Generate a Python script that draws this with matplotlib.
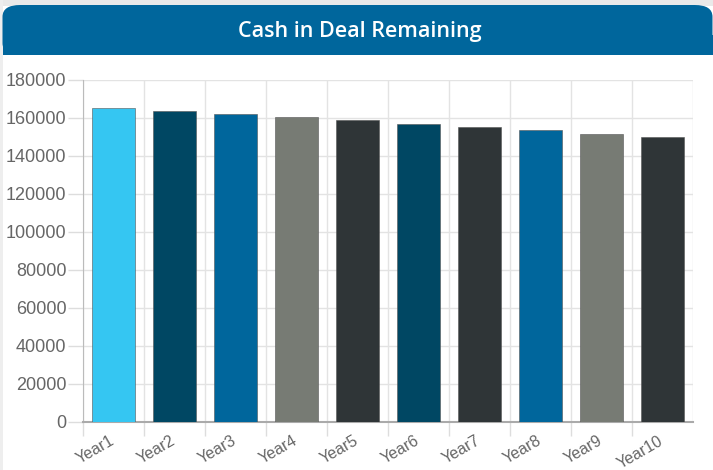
import numpy as np
import matplotlib.pyplot as plt
from matplotlib.patches import FancyBboxPatch, Rectangle
from matplotlib.transforms import ScaledTranslation

# chart data
years = ['Year1', 'Year2', 'Year3', 'Year4', 'Year5',
         'Year6', 'Year7', 'Year8', 'Year9', 'Year10']
cash = [165000, 163700, 162300, 160400, 158800,
        157000, 155400, 153800, 151700, 150000]
bar_colors = ['#35c6f2', '#004763', '#00669c', '#777b74', '#2f3537',
              '#004763', '#2f3537', '#00669c', '#777b74', '#2f3537']

W, H = 713, 470
fig = plt.figure(figsize=(W / 100, H / 100), dpi=100)
fig.patch.set_facecolor('white')

# light grey strip at the top and the card border on the left
fig.patches.append(Rectangle((0, (H - 6) / H), 1, 6 / H, transform=fig.transFigure,
                             facecolor='#e9e9e9', edgecolor='none', zorder=0))
fig.patches.append(Rectangle((0, 0), 2.5 / W, 1, transform=fig.transFigure,
                             facecolor='#eeeeee', edgecolor='none', zorder=0))

# blue header band with rounded top corners
header = FancyBboxPatch((2.5 / W, (H - 55) / H), (W - 3) / W, 50 / H,
                        boxstyle='round,pad=0,rounding_size=0.025',
                        transform=fig.transFigure, facecolor='#00669c',
                        edgecolor='none', zorder=1)
fig.patches.append(header)
fig.patches.append(Rectangle((2.5 / W, (H - 55) / H), (W - 3) / W, 20 / H,
                             transform=fig.transFigure, facecolor='#00669c',
                             edgecolor='none', zorder=1))
fig.text(360 / W, 1 - 31 / H, 'Cash in Deal Remaining', color='white',
         fontsize=15.5, family='Open Sans', fontweight='semibold',
         ha='center', va='center', zorder=2)

# plot area
left, right, top, bottom = 83, 693, 80, 422
ax = fig.add_axes([left / W, 1 - bottom / H, (right - left) / W, (bottom - top) / H])
ax.set_facecolor('none')
ax.set_zorder(5)

x = np.arange(len(years))
ax.bar(x, cash, width=0.72, color=bar_colors, edgecolor='#555555',
       linewidth=0.4, zorder=3)

ax.set_xlim(-0.5, len(years) - 0.5)
ax.set_ylim(0, 180000)
ax.set_yticks(np.arange(0, 180001, 20000))
ax.set_xticks(x - 0.5)
ax.set_xticklabels([])
ax.set_xticks(x, minor=True)
ax.set_xticklabels(years, minor=True, rotation=30, ha='right', va='top',
                   rotation_mode='anchor', color='#666666',
                   fontsize=11.5, family='Liberation Sans')
ax.tick_params(axis='x', which='minor', length=0, pad=8)
ax.tick_params(axis='x', which='major', length=10, color='#dddddd', width=1)
ax.tick_params(axis='y', length=11, color='#dddddd', width=1,
               labelcolor='#666666', labelsize=13, pad=1)
for lbl in ax.get_yticklabels():
    lbl.set_family('Liberation Sans')

# year labels sit a little left of the bar centres in the original
for lbl in ax.get_xticklabels(minor=True):
    lbl.set_transform(lbl.get_transform() + ScaledTranslation(-0.04, 0, fig.dpi_scale_trans))

ax.grid(True, which='major', color='#e3e3e3', linewidth=1, zorder=0)
for side in ['top', 'right']:
    ax.spines[side].set_visible(False)
ax.spines['left'].set_color('#bbbbbb')
ax.spines['bottom'].set_color('#aaaaaa')
ax.spines['bottom'].set_linewidth(1.5)
# right edge gridline
ax.axvline(len(years) - 0.5, color='#e3e3e3', linewidth=1, zorder=0)

fig.savefig('out.png', dpi=100, facecolor=fig.get_facecolor())
